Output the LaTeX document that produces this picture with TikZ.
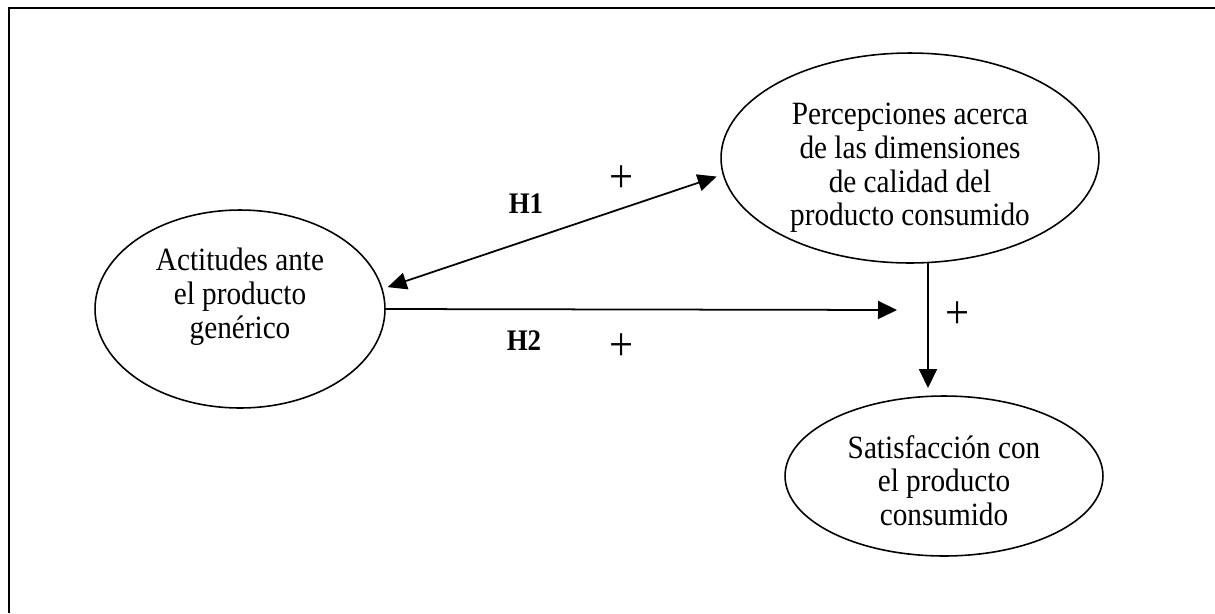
\documentclass[tikz,border=0pt]{standalone}
\usepackage{fontspec}
\setmainfont{Liberation Serif}[FakeStretch=0.9]
\usetikzlibrary{shapes.geometric,arrows.meta}
\begin{document}
\begin{tikzpicture}[x=0.02cm,y=-0.02cm,
  construct/.style={ellipse,draw,line width=0.9pt,inner sep=0pt,outer sep=0pt},
  txt/.style={align=center,inner sep=0pt,font=\fontsize{18.5}{19.2}\selectfont},
  arr/.style={line width=1pt,-{Triangle[length=0.38cm,width=0.36cm]}},
  dblarr/.style={line width=1pt,{Triangle[length=0.38cm,width=0.34cm]}-{Triangle[length=0.38cm,width=0.34cm]}},
  hyp/.style={font=\fontsize{17}{19}\selectfont\bfseries},
  sign/.style={font=\fontsize{27}{28}\selectfont}]
\useasboundingbox (0,0) rectangle (1215,613);
% frame: top and left rules
\draw[line width=1.1pt] (1215,8) -- (9,8) -- (9,613);

% constructs
\node[construct,minimum width=5.8cm,minimum height=3.96cm,
  label={[txt,yshift=0.25cm]center:Actitudes ante\\el producto\\genérico}] (act) at (240,309) {};
\node[construct,minimum width=7.56cm,minimum height=4.2cm,
  label={[txt,yshift=-0.2cm]center:Percepciones acerca\\de las dimensiones\\de calidad del\\producto consumido}] (perc) at (910,158) {};
\node[construct,minimum width=6.36cm,minimum height=3.2cm,
  label={[txt,yshift=-0.09cm]center:Satisfacción con\\el producto\\consumido}] (sat) at (944,476) {};

% relations
\draw[dblarr,shorten <=0.12cm,shorten >=0.14cm] (act.8) -- (perc.185);
\coordinate (h2end) at (897,310);
\draw[arr] (act.east) -- (h2end);
\coordinate (vx) at (928,0);
\draw[arr,shorten >=0.16cm] (perc.south -| vx) -- (sat.north -| vx);

% hypothesis labels and signs
\node[hyp] (h1) at (526,204) {H1};
\node[sign] (p1) at (622,179) {+};
\node[hyp] (h2) at (524,341) {H2};
\node[sign] (p2) at (622,347) {+};
\node[sign] (p3) at (958,315) {+};
\end{tikzpicture}
\end{document}
